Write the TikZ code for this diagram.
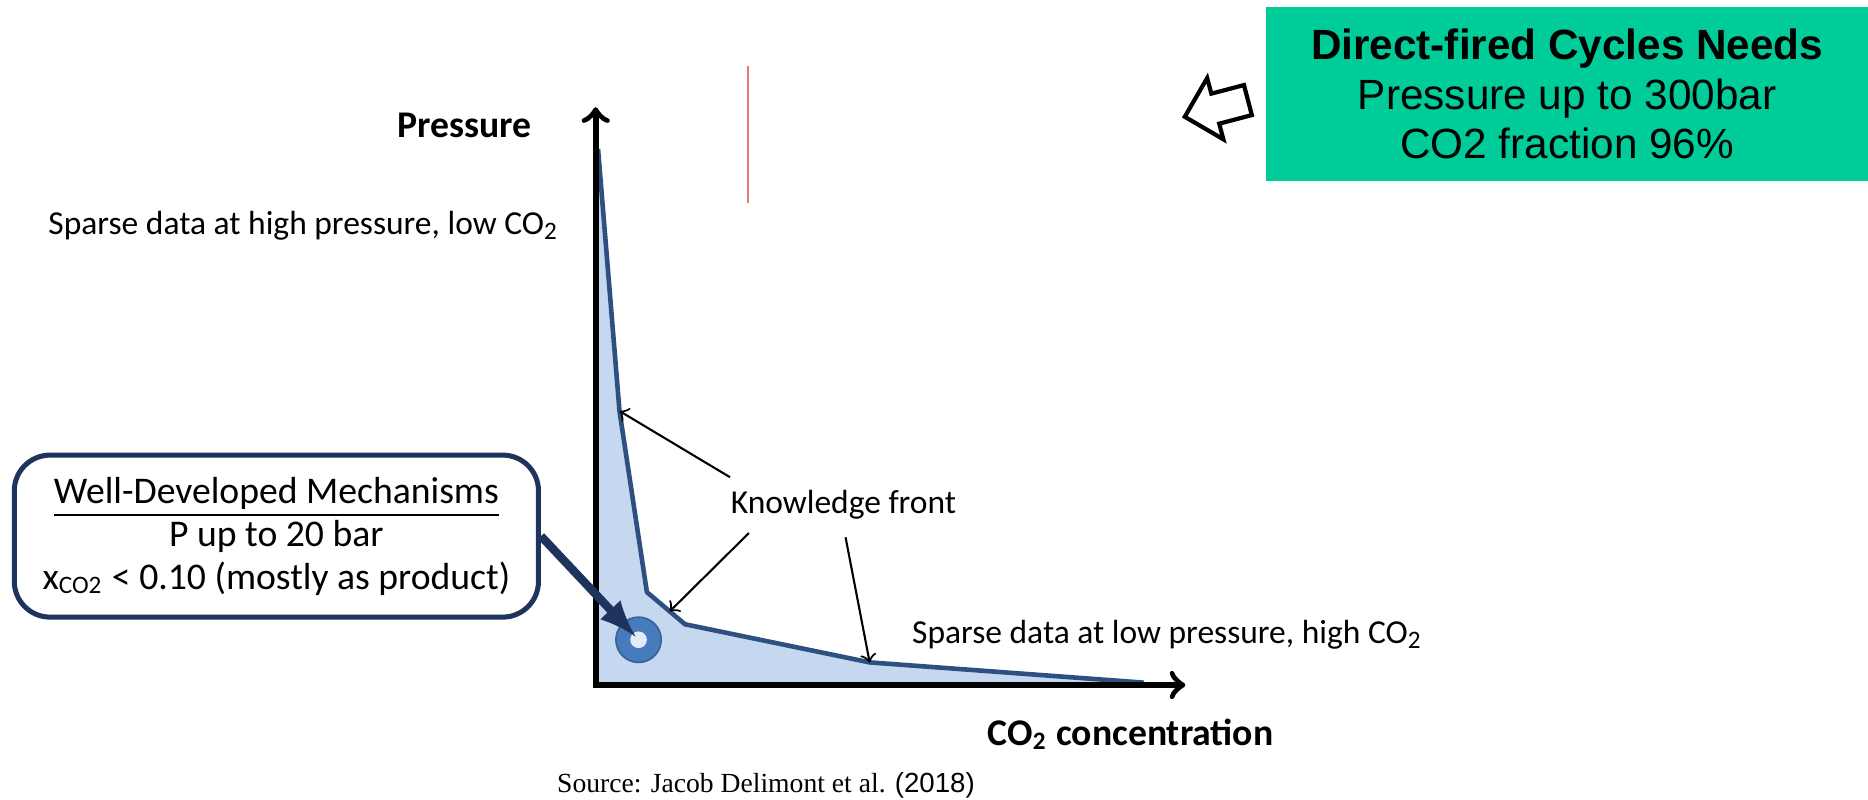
\documentclass[tikz,border=0pt]{standalone}
\usepackage{fontspec}
\setmainfont{Carlito}
\newfontfamily\arialfont{Liberation Sans}
\newfontfamily\timesfont{Liberation Serif}
\usetikzlibrary{positioning}
\usetikzlibrary{arrows}
\usetikzlibrary{calc}

\definecolor{frontfill}{RGB}{198,216,240}
\definecolor{frontline}{RGB}{45,80,128}
\definecolor{ringblue}{RGB}{70,124,190}
\definecolor{calloutnavy}{RGB}{30,52,92}
\definecolor{needsgreen}{RGB}{0,204,153}
\definecolor{markred}{RGB}{232,120,120}

\tikzset{
	sparse/.style={font=\fontsize{8}{9.6}\selectfont, inner sep=0pt},
	axislabel/.style={font=\fontsize{9}{10.8}\selectfont\bfseries, inner sep=0pt},
	pointer/.style={->, line width=0.5pt},
}

\begin{document}
\begin{tikzpicture}[x=0.1mm, y=-0.1mm]
	% page size
	\useasboundingbox (0,0) rectangle (1568,671);

	% Corners of the knowledge front
	\foreach \x/\y [count=\i] in {502/125, 520/345, 543/497, 575/524, 730/556, 960/573} {
		\coordinate (f\i) at (\x,\y);
	}
	\coordinate (o) at (500,575);
	\coordinate (ptop) at (500,90);
	\coordinate (cend) at (995,575);

	\fill[frontfill] (o) -- (f1) -- (f2) -- (f3) -- (f4) -- (f5) -- (f6) -- cycle;
	\draw[frontline, line width=1.1pt, line join=round] (f1) -- (f2) -- (f3) -- (f4) -- (f5) -- (f6);

	% Axes
	\draw[<->, line width=1.4pt] (ptop) |- (cend);
	\node[axislabel, anchor=east] (plabel) at (447,105) {Pressure};
	\node[axislabel] (clabel) at (949,616) {CO\textsubscript{2} concentration};

	\node[sparse, anchor=base west] (shigh) at (40,197) {Sparse data at high pressure, low CO\textsubscript{2}};
	\node[sparse, anchor=base west] (slow) at (765,540) {Sparse data at low pressure, high CO\textsubscript{2}};

	% Knowledge front label and its pointers
	\node[sparse] (kf) at (708,424) {Knowledge front};
	\coordinate (kink) at ($(f3)!0.6!(f4)$);
	\draw[pointer] ([yshift=3pt]kf.north west) -- (f2);
	\draw[pointer] ([xshift=4.5pt,yshift=-3pt]kf.south west) -- (kink);
	\draw[pointer] ([xshift=0.5pt,yshift=-4pt]kf.south) -- (f5);

	% Target ring
	\node[circle, fill=ringblue, draw=ringblue!80!black, inner sep=0pt, minimum size=3.8mm] (ring) at (536,537) {};
	\node[circle, fill=frontfill!50!white, inner sep=0pt, minimum size=1.4mm] (hole) at (ring) {};

	% Callout
	\node[draw=calloutnavy, line width=1.2pt, rounded corners=3mm, minimum width=4.4cm, minimum height=1.36cm,
		align=center, font=\fontsize{9}{10.3}\selectfont] (wdm) at (232,450)
		{{\underline{Well-Developed Mechanisms}}\\P up to 20 bar\\x\textsubscript{CO2} < 0.10 (mostly as product)};
	\draw[calloutnavy, line width=2pt, -latex, shorten >=1pt] (wdm.east) -- (ring.center);

	\draw[markred, line width=0.5pt] (628,55) -- (628,170);

	% Needs box
	\node[fill=needsgreen, minimum width=5.05cm, minimum height=1.46cm, align=center,
		font=\arialfont\fontsize{10.1}{11.8}\selectfont] (needs) at (1315.5,79)
		{\textbf{Direct-fired Cycles Needs}\\Pressure up to 300bar\\CO2 fraction 96\%};
	% hollow arrow pointing at the plot
	\draw[line width=1pt, line join=miter, fill=white] (994.5,98) -- (1013.3,65.5) -- (1016.8,78.6) -- (1044.2,71.4)
		-- (1050.8,96.6) -- (1023.4,103.8) -- (1026.9,116.9) -- cycle;

	\node[font=\timesfont\fontsize{6.6}{8}\selectfont, inner sep=0pt, anchor=base west] (src) at (467,665)
		{Source: Jacob Delimont et al. {\arialfont(2018)}};
\end{tikzpicture}
\end{document}
